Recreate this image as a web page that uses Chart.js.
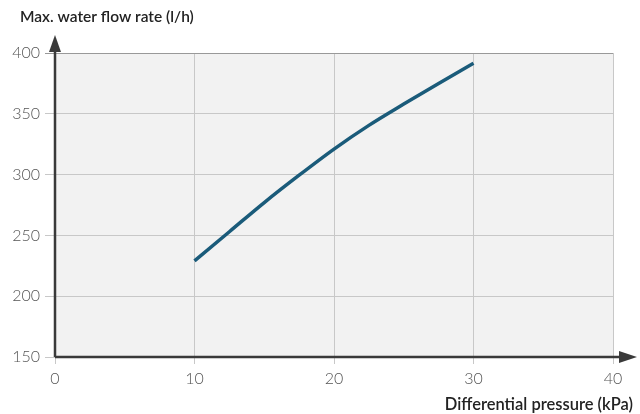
<!DOCTYPE html>
<html>
<head>
<meta charset="utf-8">
<script src="https://cdn.jsdelivr.net/npm/chart.js@4/dist/chart.umd.min.js"></script>
<style>
html,body{margin:0;padding:0;background:#fff;}
#wrap{width:640px;height:414px;position:relative;}
</style>
</head>
<body>
<div id="wrap"><canvas id="c" width="640" height="414"></canvas></div>
<script>
const pressureKPa = [10, 12.5, 15, 17.5, 20, 22.5, 25, 27.5, 30];
const flowRate    = [229, 253, 277, 299.5, 321, 340.5, 358, 375, 391.5];
const xTicks = [0, 10, 20, 30, 40];
const yTicks = [150, 200, 250, 300, 350, 400];
const yTitle = 'Max. water flow rate (l/h)';
const xTitle = 'Differential pressure (kPa)';

const FONT = 'Lato, "Open Sans", sans-serif';

const decor = {
  id: 'decor',
  beforeDraw(chart) {
    const {ctx, chartArea: a} = chart;
    ctx.save();
    ctx.fillStyle = '#f2f2f2';
    ctx.fillRect(a.left, a.top, a.right - a.left, a.bottom - a.top);
    ctx.restore();
  },
  afterDraw(chart) {
    const {ctx, chartArea: a, scales} = chart;
    const x0 = scales.x.getPixelForValue(0);
    const y0 = scales.y.getPixelForValue(150);
    ctx.save();
    ctx.strokeStyle = '#3a3a3a';
    ctx.fillStyle = '#3a3a3a';
    ctx.lineWidth = 2.5;
    ctx.beginPath();
    ctx.moveTo(x0, y0);
    ctx.lineTo(x0, a.top - 10);
    ctx.moveTo(x0, y0);
    ctx.lineTo(a.right + 10, y0);
    ctx.stroke();
    // y arrow
    ctx.beginPath();
    ctx.moveTo(x0, a.top - 18);
    ctx.lineTo(x0 - 6, a.top - 1);
    ctx.lineTo(x0 + 6, a.top - 1);
    ctx.closePath();
    ctx.fill();
    // x arrow
    ctx.beginPath();
    ctx.moveTo(a.right + 24, y0);
    ctx.lineTo(a.right + 6, y0 - 6);
    ctx.lineTo(a.right + 6, y0 + 6);
    ctx.closePath();
    ctx.fill();
    // titles
    ctx.fillStyle = '#222';
    ctx.textBaseline = 'middle';
    ctx.textAlign = 'left';
    ctx.font = '600 15.5px ' + FONT;
    ctx.fillText(yTitle, 20, 17);
    ctx.textAlign = 'right';
    ctx.font = '600 16.5px ' + FONT;
    ctx.fillText(xTitle, 633, 405);
    ctx.restore();
  }
};

new Chart(document.getElementById('c'), {
  type: 'line',
  data: {
    datasets: [{
      data: pressureKPa.map((x, i) => ({x, y: flowRate[i]})),
      borderColor: '#1a5b7a',
      borderWidth: 3.5,
      pointRadius: 0,
      cubicInterpolationMode: 'monotone',
      fill: false
    }]
  },
  options: {
    responsive: false,
    animation: false,
    layout: {padding: {top: 53, right: 27, left: 0, bottom: 0}},
    plugins: {legend: {display: false}, tooltip: {enabled: false}},
    scales: {
      x: {
        type: 'linear', min: 0, max: 40,
        afterBuildTicks(s) { s.ticks = xTicks.map(v => ({value: v})); },
        afterFit(s) { s.height = 57; },
        grid: {color: '#c8c8c8', lineWidth: 1, tickLength: 7, drawTicks: true},
        border: {display: false},
        ticks: {color: '#555', font: {family: FONT, size: 16, weight: 300}, padding: 5, maxRotation: 0}
      },
      y: {
        type: 'linear', min: 150, max: 400,
        afterBuildTicks(s) { s.ticks = yTicks.map(v => ({value: v})); },
        afterFit(s) { s.width = 55; },
        grid: {color: (c) => c.tick && c.tick.value === 400 ? '#999' : '#c8c8c8', lineWidth: 1, tickLength: 10},
        border: {display: false},
        ticks: {color: '#555', font: {family: FONT, size: 16, weight: 300}, padding: 5}
      }
    }
  },
  plugins: [decor]
});
</script>
</body>
</html>
